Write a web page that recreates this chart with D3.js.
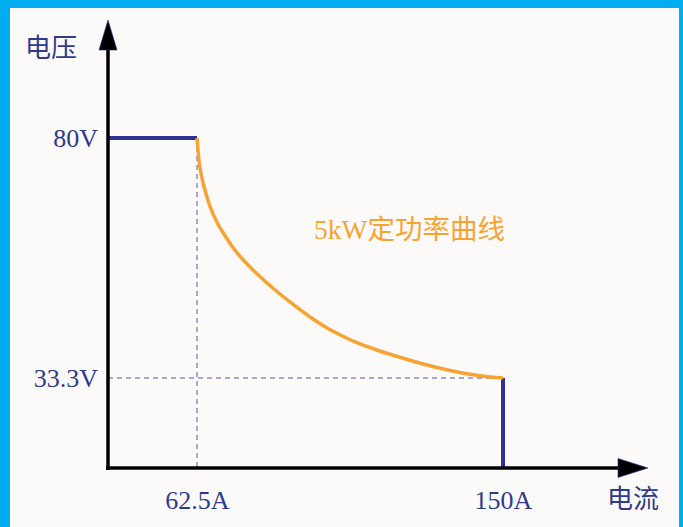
<!DOCTYPE html>
<html>
<head>
<meta charset="utf-8">
<script src="https://cdn.jsdelivr.net/npm/d3@7"></script>
<style>
    html, body { margin: 0; padding: 0; }
    body { width: 683px; height: 527px; overflow: hidden; background: #00aeef; }
    svg { display: block; }
</style>
</head>
<body>
<div id="chart"></div>
<script>
// tick values and labels (the chart is schematic, so the scales are piecewise)
const currentTicks = [62.5, 150];
const currentLabels = ['62.5A', '150A'];
const voltageTicks = [33.3, 80];
const voltageLabels = ['33.3V', '80V'];

// constant voltage / constant current segments
const cvCurrent = [0, 62.5];
const cvVoltage = [80, 80];
const ccCurrent = [150, 150];
const ccVoltage = [33.3, 0];

// 5kW constant power curve
const curveCurrent = [62.5, 62.84, 63.21, 63.73, 64.30, 65.22, 66.22, 68.13, 70.02, 72.88, 75.74, 79.57, 84.32,
    89.09, 94.81, 99.59, 104.33, 109.11, 113.89, 118.63, 123.41, 129.13, 134.85, 140.57, 146.29, 150];
const curveVoltage = [80, 77.28, 74.84, 72.80, 71.09, 68.81, 66.67, 63.71, 61.51, 58.60, 56.26, 53.63, 50.72,
    48.09, 45.17, 43.07, 41.38, 39.92, 38.75, 37.72, 36.76, 35.69, 34.76, 34.04, 33.51, 33.3];

const width = 683;
const height = 527;
const latin = '"Liberation Serif", "Times New Roman", "Noto Sans CJK SC", serif';
const textColor = '#2f3a8a';
const lineBlue = '#2e3192';
const orange = '#f7a333';

const svg = d3.select('#chart')
    .append('svg')
    .attr('width', width)
    .attr('height', height);

// panel (blue frame shows on top, left and right)
svg.append('rect')
    .attr('x', 10).attr('y', 8)
    .attr('width', 669).attr('height', height - 8)
    .attr('fill', '#fbfaf9');

// piecewise linear scales, last stop is the end of the axis
const x = d3.scaleLinear().domain([0, 62.5, 150, 170]).range([108, 197, 503, 618]);
const y = d3.scaleLinear().domain([0, 33.3, 80, 100]).range([468, 378, 138, 50]);

// dashed guides
svg.append('line')
    .attr('x1', x(62.5)).attr('x2', x(62.5))
    .attr('y1', y(80)).attr('y2', y(0))
    .attr('stroke', '#5557bb').attr('stroke-width', 1)
    .attr('stroke-dasharray', '5,4');
svg.append('line')
    .attr('x1', x(0)).attr('x2', x(150))
    .attr('y1', y(33.3)).attr('y2', y(33.3))
    .attr('stroke', '#5557bb').attr('stroke-width', 1)
    .attr('stroke-dasharray', '5,4');

// axes: labels only
const yAxis = d3.axisLeft(y)
    .tickValues(voltageTicks)
    .tickSize(0)
    .tickPadding(10)
    .tickFormat(function(d, i) { return voltageLabels[i]; });

const xAxis = d3.axisBottom(x)
    .tickValues(currentTicks)
    .tickSize(0)
    .tickFormat(function(d, i) { return currentLabels[i]; });

const gy = svg.append('g').attr('transform', 'translate(' + x(0) + ',0)').call(yAxis);
const gx = svg.append('g').attr('transform', 'translate(0,' + y(0) + ')').call(xAxis);

[gx, gy].forEach(function(g) {
    g.select('.domain').remove();
    g.selectAll('text')
        .attr('fill', textColor)
        .style('font-family', latin)
        .style('font-size', '26px');
});
gx.selectAll('text').attr('y', 41).attr('dy', 0);

// CV and CC segments
const line = d3.line()
    .x(function(d) { return x(d[0]); })
    .y(function(d) { return y(d[1]); });

svg.append('path')
    .datum(d3.zip(cvCurrent, cvVoltage))
    .attr('d', line)
    .attr('fill', 'none')
    .attr('stroke', lineBlue)
    .attr('stroke-width', 4);

svg.append('path')
    .datum(d3.zip(ccCurrent, ccVoltage))
    .attr('d', line)
    .attr('fill', 'none')
    .attr('stroke', lineBlue)
    .attr('stroke-width', 4);

// constant power curve
svg.append('path')
    .datum(d3.zip(curveCurrent, curveVoltage))
    .attr('d', line.curve(d3.curveCatmullRom.alpha(0.5)))
    .attr('fill', 'none')
    .attr('stroke', orange)
    .attr('stroke-width', 3.5);

// axis lines with arrows
svg.append('line')
    .attr('x1', x(0)).attr('x2', x(0))
    .attr('y1', y(0) + 2).attr('y2', y(100))
    .attr('stroke', '#000').attr('stroke-width', 3.5);
svg.append('line')
    .attr('x1', x(0) - 2).attr('x2', x(170))
    .attr('y1', y(0)).attr('y2', y(0))
    .attr('stroke', '#000').attr('stroke-width', 3.5);

svg.append('path')
    .attr('d', 'M' + (x(0) - 9) + ',' + y(100) + 'L' + x(0) + ',' + (y(100) - 30) + 'L' + (x(0) + 9) + ',' + y(100) + 'Z')
    .attr('fill', '#000')
    .attr('stroke', '#2e3192').attr('stroke-width', 0.6);
svg.append('path')
    .attr('d', 'M' + x(170) + ',' + (y(0) - 9.5) + 'L' + (x(170) + 30) + ',' + y(0) + 'L' + x(170) + ',' + (y(0) + 9.5) + 'Z')
    .attr('fill', '#000')
    .attr('stroke', '#2e3192').attr('stroke-width', 0.6);

// axis titles
svg.append('text')
    .attr('x', 25).attr('y', 57)
    .attr('fill', textColor)
    .style('font-family', '"Noto Sans CJK SC", sans-serif')
    .style('font-size', '26px')
    .text('电压');

svg.append('text')
    .attr('x', 607).attr('y', 508)
    .attr('fill', textColor)
    .style('font-family', '"Noto Sans CJK SC", sans-serif')
    .style('font-size', '26px')
    .text('电流');

// curve label
svg.append('text')
    .attr('x', 314).attr('y', 239)
    .attr('fill', orange)
    .style('font-family', latin)
    .style('font-size', '27.5px')
    .text('5kW定功率曲线');
</script>
</body>
</html>
